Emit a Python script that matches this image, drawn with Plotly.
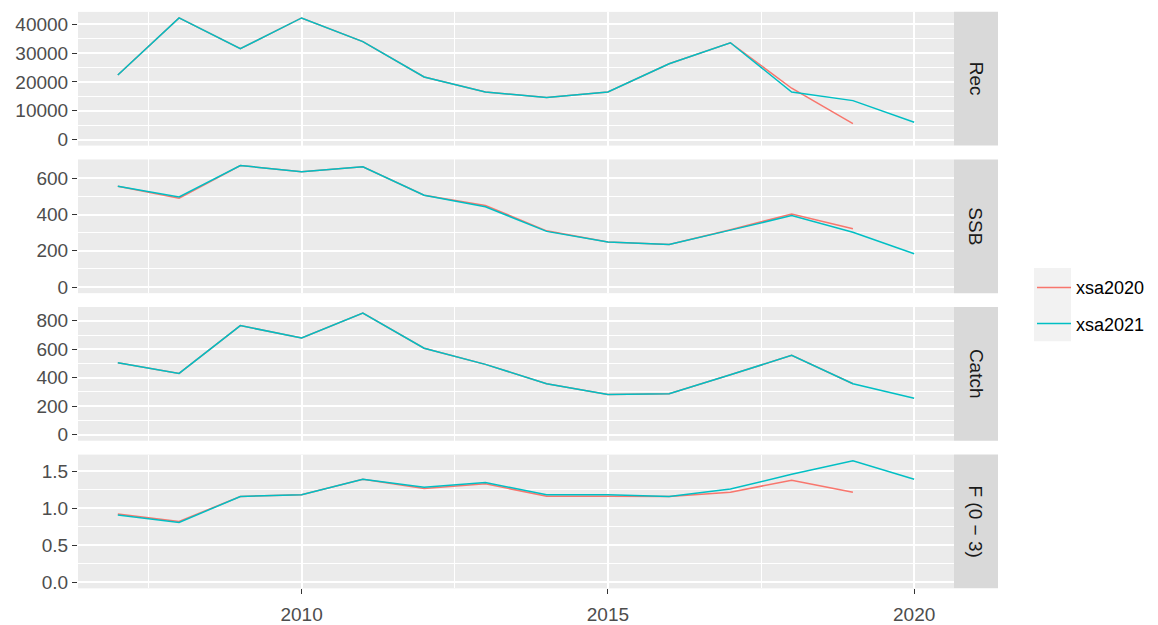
import plotly.graph_objects as go

# ---------------- data ----------------
years_2020 = list(range(2007, 2020))
years_2021 = list(range(2007, 2021))

rec_xsa2020 = [22400, 42200, 31500, 42200, 34000, 21700, 16500, 14600, 16500, 26300, 33600, 17800, 5500]
rec_xsa2021 = [22400, 42200, 31500, 42200, 34000, 21700, 16500, 14600, 16500, 26300, 33600, 16500, 13500, 6000]

ssb_xsa2020 = [556, 490, 670, 636, 663, 506, 450, 310, 248, 235, 316, 403, 322]
ssb_xsa2021 = [556, 497, 670, 636, 663, 506, 443, 307, 248, 235, 314, 394, 302, 184]

catch_xsa2020 = [505, 430, 766, 680, 854, 607, 494, 358, 283, 288, 421, 557, 358]
catch_xsa2021 = [505, 430, 766, 680, 854, 607, 494, 358, 283, 288, 421, 557, 358, 256]

f_xsa2020 = [0.924, 0.822, 1.161, 1.183, 1.394, 1.270, 1.332, 1.165, 1.165, 1.161, 1.218, 1.381, 1.218]
f_xsa2021 = [0.910, 0.809, 1.161, 1.183, 1.394, 1.284, 1.350, 1.183, 1.183, 1.161, 1.262, 1.460, 1.645, 1.394]

panel_labels = ["Rec", "SSB", "Catch", "F (0 \u2212 3)"]
series_names = ["xsa2020", "xsa2021"]
series_colors = ["#F8766D", "#00BFC4"]
x_tick_vals = [2010, 2015, 2020]

# ---------------- layout helpers ----------------
W, H = 1158, 625
def fx(p):
    return p / W
def fy(p):
    return 1 - p / H

panel_left, panel_right = 78, 954
strip_right = 998
panel_h = 135.25
panel_tops = [12, 161.25, 310.5, 459.75]

panels = [
    (rec_xsa2020, rec_xsa2021, 10000, 5000, "d"),
    (ssb_xsa2020, ssb_xsa2021, 200, 100, "d"),
    (catch_xsa2020, catch_xsa2021, 200, 100, "d"),
    (f_xsa2020, f_xsa2021, 0.5, 0.25, ".1f"),
]

xmin, xmax = min(years_2021), max(years_2021)
xpad = 0.05 * (xmax - xmin)
x_range = [xmin - xpad, xmax + xpad]

fig = go.Figure()
shapes = []
annotations = []
layout_axes = {}

FONT = "Liberation Sans, Arial, sans-serif"
tick_font = dict(family=FONT, size=19, color="#4D4D4D")
legend_ids = ["legend", "legend2"]

for i, (s20, s21, dt, mdt, fmt) in enumerate(panels):
    n = i + 1
    xa = "x" if n == 1 else f"x{n}"
    ya = "y" if n == 1 else f"y{n}"
    for k, (name, col, xs, ys) in enumerate(
            [(series_names[0], series_colors[0], years_2020, s20),
             (series_names[1], series_colors[1], years_2021, s21)]):
        fig.add_trace(go.Scatter(
            x=xs, y=ys, mode="lines", name=name, legendgroup=name,
            legend=legend_ids[k],
            showlegend=(i == 0), line=dict(color=col, width=1.5),
            xaxis=xa, yaxis=ya))

    top = panel_tops[i]
    bottom = top + panel_h
    ymax = max(max(s20), max(s21))
    ypad = 0.05 * ymax
    y_range = [0 - ypad, ymax + ypad]

    is_bottom = (i == len(panels) - 1)
    xkey = "xaxis" if n == 1 else f"xaxis{n}"
    ykey = "yaxis" if n == 1 else f"yaxis{n}"
    layout_axes[xkey] = dict(
        domain=[fx(panel_left), fx(panel_right)], anchor=ya, range=x_range,
        tickmode="array", tickvals=x_tick_vals,
        showticklabels=is_bottom, ticks="outside" if is_bottom else "",
        ticklen=5, tickwidth=1, tickcolor="#333333", tickfont=tick_font,
        ticklabelstandoff=4,
        showgrid=True, gridcolor="white", gridwidth=1.6,
        minor=dict(tickmode="array", tickvals=[2007.5, 2012.5, 2017.5],
                   showgrid=True, gridcolor="white", gridwidth=0.8, ticks=""),
        zeroline=False, showline=False, fixedrange=True,
    )
    layout_axes[ykey] = dict(
        domain=[fy(bottom), fy(top)], anchor=xa, range=y_range,
        tick0=0, dtick=dt, tickformat=fmt,
        ticks="outside", ticklen=5, tickwidth=1, tickcolor="#333333",
        tickfont=tick_font, showgrid=True, gridcolor="white", gridwidth=1.6,
        minor=dict(tick0=0, dtick=mdt, showgrid=True, gridcolor="white",
                   gridwidth=0.8, ticks=""),
        zeroline=False, showline=False, fixedrange=True,
    )

    # facet strip
    shapes.append(dict(type="rect", xref="paper", yref="paper",
                       x0=fx(panel_right), x1=fx(strip_right),
                       y0=fy(bottom), y1=fy(top),
                       fillcolor="#D9D9D9", line=dict(width=0), layer="below"))
    annotations.append(dict(xref="paper", yref="paper",
                            x=fx((panel_right + strip_right) / 2), y=fy(top + panel_h / 2),
                            text=panel_labels[i], showarrow=False, textangle=90,
                            font=dict(family=FONT, size=19, color="#1A1A1A"),
                            xanchor="center", yanchor="middle"))

# legend key background
shapes.append(dict(type="rect", xref="paper", yref="paper",
                   x0=fx(1034), x1=fx(1071), y0=fy(345), y1=fy(271),
                   fillcolor="#F2F2F2", line=dict(width=0), layer="below"))

legend_common = dict(xanchor="left", yanchor="middle", bgcolor="rgba(0,0,0,0)",
                     borderwidth=0, itemwidth=34,
                     font=dict(family=FONT, size=18, color="#000000"))

fig.update_layout(
    width=W, height=H,
    margin=dict(l=0, r=0, t=0, b=0),
    paper_bgcolor="white", plot_bgcolor="#EBEBEB",
    shapes=shapes, annotations=annotations,
    showlegend=True,
    legend=dict(x=fx(1032), y=fy(291), **legend_common),
    legend2=dict(x=fx(1032), y=fy(327.5), **legend_common),
    **layout_axes,
)

fig.write_html(
    "out.html",
    config={"displayModeBar": False},
    post_script="document.body.style.margin='0';document.body.style.overflow='hidden';",
)
